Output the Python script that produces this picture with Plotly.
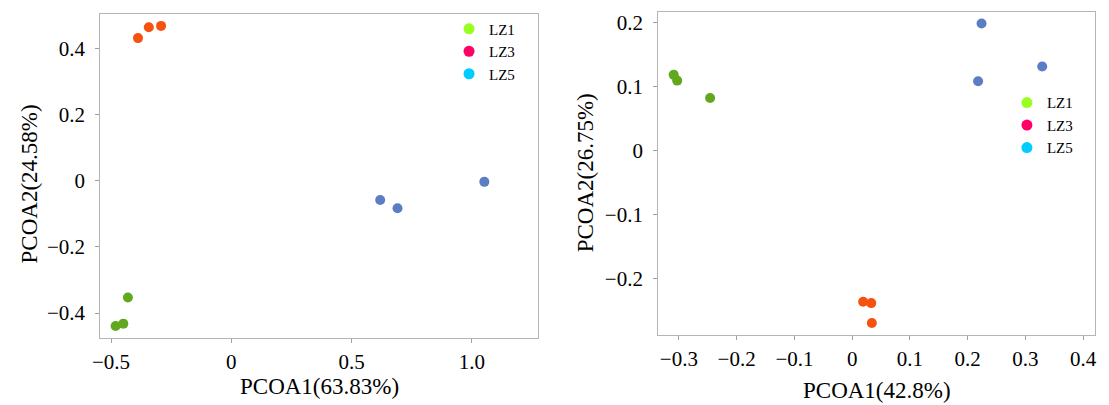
import plotly.graph_objects as go

# ---- data ----
groups = ["LZ1", "LZ3", "LZ5"]
legend_colors = ["#99FF22", "#FF0066", "#00CCFF"]
point_colors = ["#62A81E", "#F5520F", "#5A7DC4"]

# Left panel (PCOA1 63.83%, PCOA2 24.58%)
left_x = {
    "LZ1": [-0.430, -0.481, -0.449],
    "LZ3": [-0.388, -0.343, -0.292],
    "LZ5": [0.619, 0.691, 1.052],
}
left_y = {
    "LZ1": [-0.353, -0.439, -0.432],
    "LZ3": [0.432, 0.465, 0.469],
    "LZ5": [-0.058, -0.083, -0.003],
}
# Right panel (PCOA1 42.8%, PCOA2 26.75%)
right_x = {
    "LZ1": [-0.309, -0.303, -0.246],
    "LZ3": [0.019, 0.033, 0.034],
    "LZ5": [0.224, 0.329, 0.218],
}
right_y = {
    "LZ1": [0.118, 0.109, 0.082],
    "LZ3": [-0.236, -0.238, -0.269],
    "LZ5": [0.198, 0.131, 0.108],
}
left_xticks = [-0.5, 0, 0.5, 1.0]
left_xticklabels = ["−0.5", "0", "0.5", "1.0"]
left_yticks = [-0.4, -0.2, 0, 0.2, 0.4]
left_yticklabels = ["−0.4", "−0.2", "0", "0.2", "0.4"]
right_xticks = [-0.3, -0.2, -0.1, 0, 0.1, 0.2, 0.3, 0.4]
right_xticklabels = ["−0.3", "−0.2", "−0.1", "0", "0.1", "0.2", "0.3", "0.4"]
right_yticks = [-0.2, -0.1, 0, 0.1, 0.2]
right_yticklabels = ["−0.2", "−0.1", "0", "0.1", "0.2"]
titles = {
    "left_x": "PCOA1(63.83%)", "left_y": "PCOA2(24.58%)",
    "right_x": "PCOA1(42.8%)", "right_y": "PCOA2(26.75%)",
}

FONT = "Liberation Serif"
OFF = 8                     # page body margin
W, H = 1109 - OFF, 405 - OFF


def px(x):
    return (x - OFF) / W


def py(y):
    return (405 - y) / H


fig = go.Figure()

for g, pc in zip(groups, point_colors):
    fig.add_trace(go.Scatter(x=left_x[g], y=left_y[g], mode="markers",
                             marker=dict(size=10, color=pc), showlegend=False,
                             xaxis="x", yaxis="y", name=g))
    fig.add_trace(go.Scatter(x=right_x[g], y=right_y[g], mode="markers",
                             marker=dict(size=10, color=pc), showlegend=False,
                             xaxis="x2", yaxis="y2", name=g))

# legend entries (colours as drawn in the legend of the original)
for g, lc in zip(groups, legend_colors):
    fig.add_trace(go.Scatter(x=[None], y=[None], mode="markers",
                             marker=dict(size=11, color=lc), name=g,
                             legend="legend", xaxis="x", yaxis="y"))
    fig.add_trace(go.Scatter(x=[None], y=[None], mode="markers",
                             marker=dict(size=11, color=lc), name=g,
                             legend="legend2", xaxis="x2", yaxis="y2"))

axis_common = dict(
    showline=True, linecolor="#B4B4B4", linewidth=1, mirror=True,
    showgrid=False, zeroline=False, ticks="outside", ticklen=4,
    tickcolor="#A0A0A0", tickfont=dict(family=FONT, size=21, color="black"),
    tickmode="array",
)

x1d = [px(93), px(535)]
y1d = [py(338), py(13)]
x2d = [px(656), px(1097)]
y2d = [py(335), py(10.7)]

fig.update_layout(
    width=W, height=H,
    margin=dict(l=0, r=0, t=0, b=0),
    paper_bgcolor="white", plot_bgcolor="white",
    font=dict(family=FONT, color="black"),
    xaxis=dict(domain=x1d, range=[-0.545, 1.276], tickvals=left_xticks,
               ticktext=left_xticklabels, anchor="y", ticklabelstandoff=1, **axis_common),
    yaxis=dict(domain=y1d, range=[-0.476, 0.505], tickvals=left_yticks,
               ticktext=left_yticklabels, anchor="x", ticklabelstandoff=6, **axis_common),
    xaxis2=dict(domain=x2d, range=[-0.336, 0.4206], tickvals=right_xticks,
                ticktext=right_xticklabels, anchor="y2", ticklabelstandoff=1, **axis_common),
    yaxis2=dict(domain=y2d, range=[-0.288, 0.2165], tickvals=right_yticks,
                ticktext=right_yticklabels, anchor="x2", ticklabelstandoff=6, **axis_common),
    legend=dict(x=px(445), y=py(11.5), xanchor="left", yanchor="top",
                bgcolor="rgba(0,0,0,0)", itemwidth=30, tracegroupgap=0,
                font=dict(family=FONT, size=15, color="black")),
    legend2=dict(x=px(1008), y=py(85.5), xanchor="left", yanchor="top",
                 bgcolor="rgba(0,0,0,0)", itemwidth=30, tracegroupgap=0,
                 font=dict(family=FONT, size=15, color="black")),
)

ann_font = dict(family=FONT, size=23, color="black")
fig.add_annotation(text=titles["left_x"], x=(x1d[0] + x1d[1]) / 2, y=py(386),
                   xref="paper", yref="paper", showarrow=False, font=ann_font,
                   xanchor="center", yanchor="middle")
fig.add_annotation(text=titles["left_y"], x=px(22), y=py(183),
                   xref="paper", yref="paper", showarrow=False, font=ann_font,
                   textangle=-90, xanchor="center", yanchor="middle")
fig.add_annotation(text=titles["right_x"], x=(x2d[0] + x2d[1]) / 2, y=py(390),
                   xref="paper", yref="paper", showarrow=False, font=ann_font,
                   xanchor="center", yanchor="middle")
fig.add_annotation(text=titles["right_y"], x=px(583), y=py(172),
                   xref="paper", yref="paper", showarrow=False, font=ann_font,
                   textangle=-90, xanchor="center", yanchor="middle")

fig.write_html("out.html")
